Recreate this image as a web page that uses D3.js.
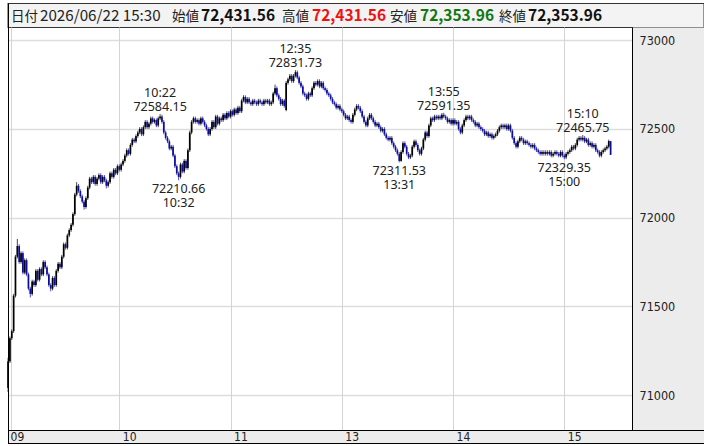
<!DOCTYPE html>
<html><head><meta charset="utf-8">
<script src="https://cdn.jsdelivr.net/npm/d3@7"></script>
<style>body{margin:0;background:#fff;}svg{display:block;}</style>
</head><body>
<svg id="c" width="704" height="446"></svg>
<script>
// ---- data ----
const sessions = [["09:00","11:29"],["12:30","15:24"],["15:30","15:30"]];
const opens = [
71040,71190,71320,71360,71560,71780,71840,71750,71800,71690,
71760,71680,71600,71570,71640,71620,71700,71650,71710,71680,
71750,71720,71680,71620,71600,71660,71620,71700,71740,71720,
71780,71850,71830,71900,71930,71960,72020,72130,72180,72150,
72120,72090,72060,72110,72170,72220,72200,72230,72190,72220,
72240,72200,72230,72210,72180,72200,72250,72230,72270,72250,
72290,72270,72300,72320,72350,72380,72360,72410,72440,72430,
72460,72480,72500,72470,72510,72540,72510,72530,72560,72540,
72550,72520,72560,72570,72540,72480,72450,72430,72390,72400,
72350,72290,72250,72230,72300,72260,72320,72280,72380,72480,
72540,72560,72540,72550,72530,72560,72540,72520,72500,72470,
72500,72540,72510,72570,72530,72560,72550,72580,72560,72590,
72570,72600,72580,72610,72590,72620,72600,72660,72680,72650,
72670,72650,72640,72660,72650,72640,72660,72650,72640,72660,
72650,72660,72640,72650,72700,72730,72690,72670,72640,72660,
72607,72760,72780,72800,72770,72800,72820,72790,72760,72740,
72700,72690,72670,72700,72690,72730,72760,72750,72770,72740,
72760,72730,72720,72700,72690,72670,72650,72640,72620,72630,
72610,72600,72580,72560,72570,72550,72540,72580,72610,72630,
72620,72600,72570,72540,72520,72560,72580,72560,72540,72520,
72530,72510,72490,72500,72470,72450,72440,72450,72420,72400,
72380,72360,72320,72370,72420,72400,72360,72340,72350,72400,
72430,72410,72380,72360,72390,72440,72480,72460,72520,72560,
72550,72570,72560,72570,72560,72580,72570,72560,72540,72550,
72530,72550,72530,72540,72500,72480,72520,72550,72570,72560,
72570,72550,72540,72520,72530,72510,72500,72490,72470,72480,
72460,72470,72450,72460,72470,72490,72510,72520,72510,72520,
72500,72520,72490,72450,72420,72400,72430,72450,72440,72420,
72430,72420,72410,72400,72410,72390,72380,72370,72360,72370,
72360,72370,72360,72370,72350,72360,72370,72360,72350,72370,
72350,72340,72360,72370,72380,72400,72390,72410,72440,72450,
72440,72450,72430,72440,72410,72420,72400,72410,72380,72370,
72350,72370,72380,72390,72400,72431.56];
const highs = [
71210,71330,71370,71570,71790,71880,71850,71810,71810,71770,
71770,71690,71610,71650,71650,71710,71710,71720,71720,71760,
71760,71730,71690,71630,71670,71670,71710,71750,71750,71790,
71860,71860,71910,71940,71970,72030,72140,72200,72190,72160,
72130,72100,72120,72180,72230,72230,72240,72240,72230,72250,
72250,72240,72240,72220,72210,72260,72260,72280,72280,72300,
72300,72310,72330,72360,72390,72390,72420,72450,72450,72470,
72490,72510,72510,72520,72550,72550,72540,72570,72570,72560,
72560,72570,72584.15,72580,72550,72490,72460,72440,72410,72410,
72360,72300,72260,72310,72310,72330,72330,72390,72490,72550,
72570,72570,72560,72560,72570,72570,72550,72530,72510,72510,
72550,72550,72580,72580,72570,72570,72590,72590,72600,72600,
72610,72610,72620,72620,72630,72630,72670,72690,72690,72680,
72680,72660,72670,72670,72660,72670,72670,72660,72670,72670,
72670,72670,72660,72710,72750,72740,72700,72680,72670,72670,
72770,72790,72810,72810,72810,72831.73,72830,72800,72770,72750,
72710,72700,72710,72710,72740,72770,72770,72780,72780,72770,
72770,72740,72730,72710,72700,72680,72660,72650,72640,72640,
72620,72610,72590,72580,72580,72560,72590,72620,72640,72640,
72630,72610,72580,72550,72570,72590,72590,72570,72550,72540,
72540,72520,72510,72510,72480,72460,72460,72460,72430,72410,
72390,72370,72380,72430,72430,72410,72370,72360,72410,72440,
72440,72420,72390,72400,72450,72490,72490,72530,72570,72570,
72580,72580,72580,72580,72590,72591.35,72580,72570,72560,72560,
72560,72560,72550,72550,72510,72530,72560,72580,72580,72580,
72580,72560,72550,72540,72540,72520,72510,72500,72490,72490,
72480,72480,72470,72480,72500,72520,72530,72530,72530,72530,
72530,72530,72500,72460,72430,72440,72460,72460,72450,72440,
72440,72430,72420,72420,72420,72400,72390,72380,72380,72380,
72380,72380,72380,72380,72370,72380,72380,72370,72380,72380,
72360,72370,72380,72390,72410,72410,72420,72450,72460,72460,
72465.75,72460,72450,72450,72430,72430,72420,72420,72390,72380,
72380,72390,72400,72410,72440,72431.56];
const lows = [
71017,71180,71310,71350,71550,71770,71740,71740,71680,71680,
71670,71590,71550,71560,71610,71610,71640,71640,71670,71670,
71710,71670,71610,71585,71590,71610,71610,71690,71710,71710,
71770,71820,71820,71890,71920,71950,72010,72120,72140,72110,
72080,72045,72050,72100,72160,72190,72190,72180,72180,72210,
72190,72190,72200,72165,72170,72190,72220,72220,72240,72240,
72260,72260,72290,72310,72340,72350,72350,72400,72420,72420,
72450,72470,72460,72460,72500,72500,72500,72520,72530,72530,
72510,72510,72550,72530,72470,72440,72420,72380,72380,72340,
72280,72240,72210.66,72220,72250,72250,72270,72270,72370,72470,
72530,72530,72530,72520,72520,72530,72510,72490,72460,72460,
72490,72500,72500,72520,72520,72540,72540,72550,72550,72560,
72560,72570,72570,72580,72580,72590,72590,72650,72640,72640,
72640,72630,72630,72640,72630,72630,72640,72630,72630,72640,
72640,72630,72630,72640,72690,72680,72660,72630,72630,72620,
72600,72750,72770,72760,72760,72790,72780,72750,72730,72690,
72680,72660,72660,72680,72680,72720,72740,72740,72730,72730,
72720,72710,72690,72680,72660,72640,72630,72610,72610,72600,
72590,72570,72550,72550,72540,72530,72530,72570,72600,72610,
72590,72560,72530,72510,72510,72550,72550,72530,72510,72510,
72500,72480,72480,72460,72440,72430,72430,72410,72390,72370,
72350,72311.53,72315,72360,72390,72350,72330,72330,72340,72390,
72400,72370,72350,72350,72380,72430,72450,72450,72510,72540,
72540,72550,72550,72550,72550,72560,72550,72530,72530,72520,
72520,72520,72520,72490,72470,72470,72510,72540,72550,72550,
72540,72530,72510,72510,72500,72490,72480,72460,72460,72450,
72450,72440,72440,72450,72460,72480,72500,72500,72500,72490,
72490,72480,72440,72410,72390,72390,72420,72430,72410,72410,
72410,72400,72390,72390,72380,72370,72360,72350,72350,72350,
72350,72350,72350,72340,72340,72350,72350,72340,72340,72340,
72329.35,72330,72350,72360,72370,72380,72380,72400,72430,72430,
72430,72420,72420,72400,72400,72390,72390,72370,72360,72340,
72340,72360,72370,72380,72390,72353.96];
const closes = [
71190,71320,71360,71560,71780,71840,71750,71800,71690,71760,
71680,71600,71570,71640,71620,71700,71650,71710,71680,71750,
71720,71680,71620,71600,71660,71620,71700,71740,71720,71780,
71850,71830,71900,71930,71960,72020,72130,72180,72150,72120,
72090,72060,72110,72170,72220,72200,72230,72190,72220,72240,
72200,72230,72210,72180,72200,72250,72230,72270,72250,72290,
72270,72300,72320,72350,72380,72360,72410,72440,72430,72460,
72480,72500,72470,72510,72540,72510,72530,72560,72540,72550,
72520,72560,72570,72540,72480,72450,72430,72390,72400,72350,
72290,72250,72230,72300,72260,72320,72280,72380,72480,72540,
72560,72540,72550,72530,72560,72540,72520,72500,72470,72500,
72540,72510,72570,72530,72560,72550,72580,72560,72590,72570,
72600,72580,72610,72590,72620,72600,72660,72680,72650,72670,
72650,72640,72660,72650,72640,72660,72650,72640,72660,72650,
72660,72640,72650,72700,72730,72690,72670,72640,72660,72630,
72760,72780,72800,72770,72800,72820,72790,72760,72740,72700,
72690,72670,72700,72690,72730,72760,72750,72770,72740,72760,
72730,72720,72700,72690,72670,72650,72640,72620,72630,72610,
72600,72580,72560,72570,72550,72540,72580,72610,72630,72620,
72600,72570,72540,72520,72560,72580,72560,72540,72520,72530,
72510,72490,72500,72470,72450,72440,72450,72420,72400,72380,
72360,72320,72370,72420,72400,72360,72340,72350,72400,72430,
72410,72380,72360,72390,72440,72480,72460,72520,72560,72550,
72570,72560,72570,72560,72580,72570,72560,72540,72550,72530,
72550,72530,72540,72500,72480,72520,72550,72570,72560,72570,
72550,72540,72520,72530,72510,72500,72490,72470,72480,72460,
72470,72450,72460,72470,72490,72510,72520,72510,72520,72500,
72520,72490,72450,72420,72400,72430,72450,72440,72420,72430,
72420,72410,72400,72410,72390,72380,72370,72360,72370,72360,
72370,72360,72370,72350,72360,72370,72360,72350,72370,72350,
72340,72360,72370,72380,72400,72390,72410,72440,72450,72440,
72450,72430,72440,72410,72420,72400,72410,72380,72370,72350,
72370,72380,72390,72400,72431.56,72353.96];
const tickTimes = ["09:00","10:00","11:00","13:00","14:00","15:00"];
const tickLabels = ["09","10","11","13","14","15"];
const priceTicks = [71000,71500,72000,72500,73000];
const annTimes = ["10:22","10:32","12:35","13:31","13:55","15:00","15:10"];
const annValues = [72584.15,72210.66,72831.73,72311.53,72591.35,72329.35,72465.75];
const annKinds = ["high","low","high","low","high","low","high"];
const headerDate = "2026/06/22 15:30";
const headerLabels = ["始値","高値","安値","終値"];
const headerValues = [72431.56,72431.56,72353.96,72353.96];
const headerColors = ["#111","#ee1111","#117711","#111"];

// ---- build ----
function expand(a,b){const out=[];let [h,m]=a.split(":").map(Number);const [h2,m2]=b.split(":").map(Number);
  while(h*60+m<=h2*60+m2){out.push(String(h).padStart(2,"0")+":"+String(m).padStart(2,"0"));m++;if(m===60){m=0;h++;}}return out;}
const times = sessions.flatMap(s=>expand(s[0],s[1]));
const n = times.length;

const L=8, R=632.5, T=27.5, B=430.5;
const svg = d3.select("#c");
const x = d3.scalePoint().domain(times).range([8.06, 8.06+(n-1)*1.854]);
const y = d3.scaleLinear().domain([71000,73000]).range([395,40.3]);

// header
svg.append("rect").attr("x",L).attr("y",3.5).attr("width",704-L).attr("height",T-3.5).attr("fill","#f3f3f3").attr("stroke","#333").attr("stroke-width",1);
// right axis panel
svg.append("rect").attr("x",R).attr("y",T).attr("width",704-R).attr("height",B-T).attr("fill","#ececec");
// bottom axis bar
svg.append("rect").attr("x",L).attr("y",B).attr("width",704-L).attr("height",443-B).attr("fill","#ececec");

// grid
const grid = svg.append("g");
grid.selectAll("line.h").data(priceTicks).join("line")
  .attr("x1",L).attr("x2",R).attr("y1",d=>Math.round(y(d))+0.5).attr("y2",d=>Math.round(y(d))+0.5)
  .attr("stroke","#dddddd").attr("stroke-width",1.6);
grid.selectAll("line.v").data(tickTimes).join("line")
  .attr("x1",d=>Math.max(L+3,Math.round(x(d)))+0.5).attr("x2",d=>Math.max(L+3,Math.round(x(d)))+0.5)
  .attr("y1",T).attr("y2",B).attr("stroke","#d4d4d4").attr("stroke-width",1);

// candles
const idx = d3.range(n);
const col = i => closes[i] >= opens[i] ? "#000000" : "#0c0c9c";
const cg = svg.append("g");
cg.selectAll("line").data(idx).join("line")
  .attr("x1",i=>x(times[i])).attr("x2",i=>x(times[i]))
  .attr("y1",i=>y(highs[i])).attr("y2",i=>y(lows[i]))
  .attr("stroke",i=>col(i)).attr("stroke-opacity",0.8).attr("stroke-width",0.9);
const bw = 1.7;
cg.selectAll("rect").data(idx).join("rect")
  .attr("x",i=>x(times[i])-bw/2).attr("width",bw)
  .attr("y",i=>y(Math.max(opens[i],closes[i])))
  .attr("height",i=>Math.max(1,Math.abs(y(opens[i])-y(closes[i]))))
  .attr("fill",i=>col(i));

// annotations: one text element per label, two lines as tspans
const ag = svg.append("g").attr("font-family","'Noto Sans', sans-serif").attr("font-size",12.5).attr("fill","#222").attr("text-anchor","middle");
annTimes.forEach((t,k)=>{
  const cx = x(t), cy = y(annValues[k]);
  const v = annValues[k].toFixed(2);
  const lines = annKinds[k]==="high" ? [t,v] : [v,t];
  const y0 = annKinds[k]==="high" ? cy-17 : cy+12.5;
  const tx = ag.append("text").attr("x",cx).attr("y",y0);
  lines.forEach((s,j)=>tx.append("tspan").attr("x",cx).attr("y",y0+j*14).text(s));
});

// right axis
const ya = svg.append("g").attr("transform",`translate(${R},0)`)
  .call(d3.axisRight(y).tickValues(priceTicks).tickSize(0).tickPadding(7).tickFormat(d3.format("d")));
ya.select(".domain").remove();
ya.selectAll("text").attr("font-family","'Liberation Sans Narrow','DejaVu Sans Condensed',sans-serif").attr("font-size",12.5).attr("fill","#222");

// bottom axis
const xa = svg.append("g").attr("transform",`translate(0,${B})`)
  .call(d3.axisBottom(x).tickValues(tickTimes).tickSize(0).tickFormat((d,i)=>tickLabels[i]));
xa.select(".domain").remove();
xa.selectAll("text").attr("font-family","'Liberation Sans Narrow','DejaVu Sans Condensed',sans-serif").attr("font-size",12).attr("fill","#222")
  .attr("text-anchor","start").attr("dy",null).attr("y",10.5).attr("x",(d,i)=>i===0?2:3);

// borders
const bd = svg.append("g").attr("stroke","#000").attr("stroke-width",1);
bd.append("line").attr("x1",L+0.5).attr("x2",L+0.5).attr("y1",3.5).attr("y2",443.5);
bd.append("line").attr("x1",R).attr("x2",R).attr("y1",T).attr("y2",B);
bd.append("line").attr("x1",L).attr("x2",704).attr("y1",B).attr("y2",B);
bd.append("line").attr("x1",L).attr("x2",704).attr("y1",443.5).attr("y2",443.5);

// header texts
const hg = svg.append("g").attr("font-family","'Noto Sans CJK JP','Noto Sans',sans-serif");
const hy = 21;
hg.append("text").attr("x",11).attr("y",hy).attr("font-size",13.5).attr("fill","#222").text("日付");
hg.append("text").attr("x",40).attr("y",hy).attr("font-size",15.2).attr("fill","#222").text(headerDate);
const labX = [172,282,390,499], valX=[201,312,420,528];
const fmt = d3.format(",.2f");
headerLabels.forEach((lab,k)=>{
  hg.append("text").attr("x",labX[k]).attr("y",hy).attr("font-size",13.5).attr("fill","#222").text(lab);
  hg.append("text").attr("x",valX[k]).attr("y",hy).attr("font-size",15.5).attr("font-weight","bold").attr("fill",headerColors[k]).text(fmt(headerValues[k]));
});
</script>
</body></html>
